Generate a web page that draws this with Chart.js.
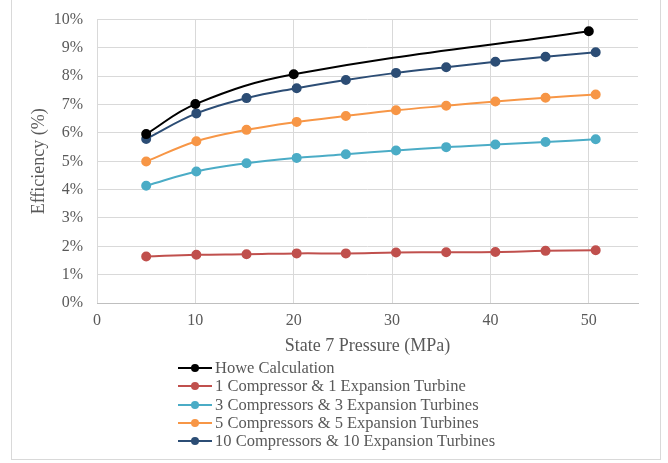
<!DOCTYPE html>
<html>
<head>
<meta charset="utf-8">
<script src="https://cdn.jsdelivr.net/npm/chart.js@4/dist/chart.umd.min.js"></script>
<style>
  html, body { margin: 0; padding: 0; background: #fff; }
  body { width: 668px; height: 463px; position: relative; overflow: hidden; }
  #frame { position: absolute; left: 11px; top: -2px; width: 650px; height: 462px; border: 1px solid #d9d9d9; box-sizing: border-box; }
  #wrap { position: absolute; left: 0; top: -4px; width: 668px; height: 364px; }
  #legend { position: absolute; left: 178px; top: 359px; font-family: "Liberation Serif", "Times New Roman", serif; font-size: 16.5px; color: #595959; }
  .row { height: 18.3px; line-height: 18.3px; display: flex; align-items: center; white-space: nowrap; }
  .swatch { position: relative; width: 34px; height: 18px; margin-right: 3px; }
  .swatch .ln { position: absolute; left: 0; top: 8px; width: 34px; height: 2px; }
  .swatch .dot { position: absolute; left: 13px; top: 5px; width: 8px; height: 8px; border-radius: 50%; }
</style>
</head>
<body>
<div id="frame"></div>
<div id="wrap"><canvas id="chart" width="668" height="364"></canvas></div>
<div id="legend"></div>
<script>
const seriesNames = [
  'Howe Calculation',
  '1 Compressor & 1 Expansion Turbine',
  '3 Compressors & 3 Expansion Turbines',
  '5 Compressors & 5 Expansion Turbines',
  '10 Compressors & 10 Expansion Turbines'
];
const seriesColors = ['#000000', '#C0504D', '#4BACC6', '#F79646', '#2C4D75'];

const howePressure = [5, 10, 20, 50];
const howeEff = [5.96, 7.02, 8.07, 9.59];

const stagePressure = [5, 10.1, 15.2, 20.3, 25.3, 30.4, 35.5, 40.5, 45.6, 50.7];
const eff1 = [1.64, 1.70, 1.72, 1.75, 1.75, 1.78, 1.79, 1.80, 1.84, 1.86];
const eff3 = [4.14, 4.64, 4.93, 5.12, 5.25, 5.38, 5.50, 5.59, 5.68, 5.78];
const eff5 = [4.99, 5.71, 6.11, 6.39, 6.60, 6.80, 6.96, 7.11, 7.24, 7.36];
const eff10 = [5.79, 6.69, 7.23, 7.58, 7.87, 8.12, 8.32, 8.51, 8.69, 8.85];

const xTicks = [0, 10, 20, 30, 40, 50];

function toPoints(xs, ys) {
  return xs.map((x, i) => ({x: x, y: ys[i]}));
}

const seriesData = [
  toPoints(howePressure, howeEff),
  toPoints(stagePressure, eff1),
  toPoints(stagePressure, eff3),
  toPoints(stagePressure, eff5),
  toPoints(stagePressure, eff10)
];

const datasets = seriesNames.map((name, i) => ({
  label: name,
  data: seriesData[i],
  showLine: true,
  tension: 0.4,
  borderColor: seriesColors[i],
  backgroundColor: seriesColors[i],
  borderWidth: 2,
  pointRadius: 4,
  pointHoverRadius: 4,
  order: i === 0 ? 0 : 1
}));

const tickFont = {family: '"Liberation Serif", "Times New Roman", serif', size: 16};
const titleFont = {family: '"Liberation Serif", "Times New Roman", serif', size: 18};
const textColor = '#595959';

const chart = new Chart(document.getElementById('chart'), {
  type: 'scatter',
  data: {datasets: datasets},
  options: {
    responsive: false,
    animation: false,
    layout: {padding: {left: 0, right: 30, top: 4, bottom: 0}},
    plugins: {legend: {display: false}, tooltip: {enabled: false}},
    scales: {
      x: {
        type: 'linear',
        min: 0,
        max: 55,
        afterBuildTicks: (axis) => { axis.ticks = xTicks.map(v => ({value: v})); },
        grid: {color: '#d9d9d9', lineWidth: 1, drawTicks: false},
        border: {color: '#bfbfbf', width: 1},
        ticks: {color: textColor, font: tickFont, padding: 8},
        title: {display: true, text: 'State 7 Pressure (MPa)', color: textColor, font: titleFont, padding: {top: 0, bottom: 3}},
        afterFit: (axis) => { axis.height = 57; }
      },
      y: {
        min: 0,
        max: 10,
        grid: {color: '#d9d9d9', lineWidth: 1, drawTicks: false},
        border: {display: false},
        ticks: {stepSize: 1, color: textColor, font: tickFont, padding: 14, callback: (v) => v + '%'},
        title: {display: true, text: 'Efficiency (%)', color: textColor, font: titleFont, padding: {top: 28, bottom: 0}},
        afterFit: (axis) => { axis.width = 97; }
      }
    }
  }
});

// legend rows built from the chart's datasets
const legend = document.getElementById('legend');
chart.data.datasets.forEach((ds) => {
  const row = document.createElement('div');
  row.className = 'row';
  const sw = document.createElement('span');
  sw.className = 'swatch';
  sw.innerHTML = '<span class="ln" style="background:' + ds.borderColor + '"></span>' +
                 '<span class="dot" style="background:' + ds.borderColor + '"></span>';
  const label = document.createElement('span');
  label.textContent = ds.label;
  row.appendChild(sw);
  row.appendChild(label);
  legend.appendChild(row);
});
</script>
</body>
</html>
